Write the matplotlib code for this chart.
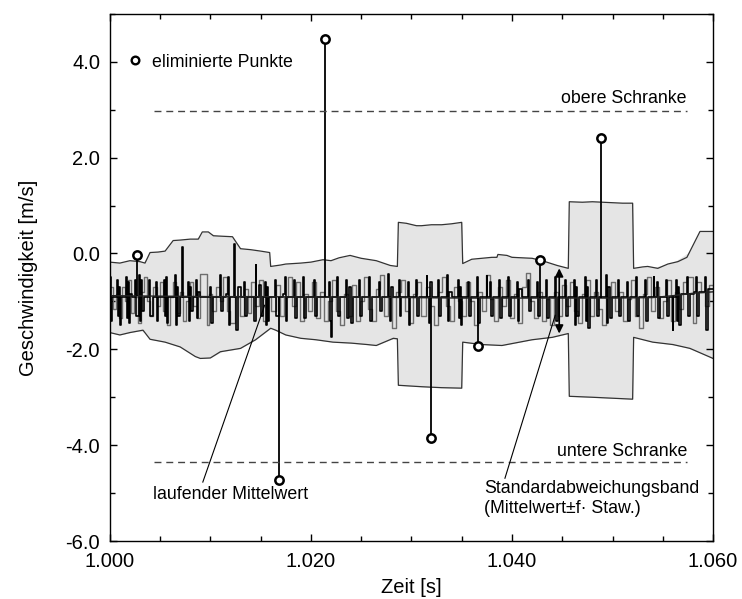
import numpy as np
import matplotlib.pyplot as plt
from matplotlib.lines import Line2D

plt.rcParams['font.family'] = ['Liberation Sans', 'DejaVu Sans']

# grey sample-and-hold signal (time offsets in ms from 1.000 s)
grey_ms = [0.0, 0.3, 0.6, 0.9, 1.2, 1.5, 1.8, 2.1, 2.4, 2.8, 3.1, 3.4, 3.7, 4.0, 4.3, 4.7,
           5.0, 5.3, 5.7, 6.0, 6.3, 6.6, 7.0, 7.3, 7.6, 8.0, 8.3, 8.7, 9.0, 9.7, 9.9, 10.2,
           10.6, 11.0, 11.3, 11.7, 12.0, 12.5, 12.9, 13.3, 13.7, 14.0, 14.4, 14.8, 15.2, 15.6,
           16.0, 16.5, 16.9, 17.3, 17.7, 18.1, 18.5, 18.9, 19.3, 19.7, 20.1, 20.5, 20.9, 21.3,
           21.7, 22.1, 22.5, 22.9, 23.3, 23.7, 24.1, 24.5, 24.9, 25.3, 25.7, 26.1, 26.5, 26.9,
           27.3, 27.7, 28.1, 28.5, 29.0, 29.4, 29.8, 30.2, 30.6, 31.0, 31.4, 31.8, 32.2, 32.6,
           33.0, 33.4, 33.8, 34.2, 34.6, 35.0, 35.4, 35.8, 36.2, 36.6, 37.0, 37.4, 37.8, 38.2,
           38.6, 39.0, 39.4, 39.8, 40.2, 40.6, 41.0, 41.4, 41.8, 42.2, 42.6, 43.0, 43.4, 43.8,
           44.2, 44.6, 45.0, 45.4, 45.8, 46.2, 46.6, 47.0, 47.4, 47.8, 48.2, 48.6, 49.0, 49.4,
           49.8, 50.2, 50.6, 51.0, 51.4, 51.8, 52.2, 52.6, 53.0, 53.4, 53.8, 54.2, 54.6, 55.0,
           55.4, 55.8, 56.2, 56.6, 57.0, 57.4, 58.0, 58.3, 58.8, 59.2, 59.6, 60.0]
grey_v = [-0.7, -1.15, -0.85, -1.35, -0.7, -1.0, -0.55, -1.25, -0.9, -1.45, -0.8, -0.5, -1.0, -1.3, -0.7, -1.1,
          -0.6, -1.2, -1.5, -0.9, -0.6, -1.25, -0.8, -1.4, -1.0, -0.6, -1.1, -1.35, -0.42, -1.5, -0.85, -1.2,
          -0.7, -1.0, -0.5, -1.2, -1.45, -0.9, -1.3, -0.75, -1.25, -0.6, -1.1, -0.55, -1.4, -0.9,
          -1.2, -0.65, -1.3, -0.9, -0.5, -1.1, -0.6, -1.4, -0.85, -1.2, -0.6, -1.35, -0.8, -1.4,
          -1.0, -0.55, -1.2, -1.5, -0.85, -1.3, -0.65, -1.4, -1.0, -0.5, -1.15, -1.4, -0.75, -0.45,
          -1.3, -0.9, -1.55, -0.8, -0.55, -1.2, -1.45, -0.85, -0.6, -1.3, -0.7, -1.1, -1.5, -0.8,
          -0.5, -1.1, -1.4, -0.7, -1.0, -1.3, -0.6, -1.0, -1.5, -0.8, -1.2, -0.45, -0.95, -1.4,
          -0.7, -1.1, -0.55, -1.35, -0.85, -1.45, -0.7, -0.4, -1.0, -1.35, -0.8, -1.4, -0.95, -1.5,
          -0.8, -1.3, -0.65, -1.1, -0.6, -1.2, -1.45, -0.85, -0.55, -1.3, -0.8, -1.15, -1.5, -0.9,
          -0.6, -1.2, -0.8, -1.4, -0.95, -0.55, -1.3, -1.55, -0.85, -0.5, -1.2, -0.7, -1.35, -1.0,
          -0.55, -1.4, -0.8, -1.15, -0.6, -0.5, -1.45, -0.6, -0.8, -1.1, -0.65, -0.65]

# black raw signal
blk_ms = [0.0, 0.1, 0.2, 0.5, 0.7, 0.8, 0.9, 1.0, 1.1, 1.4, 1.6, 1.7, 1.8, 1.9, 2.0, 2.2, 2.5, 2.6,
          2.9, 3.0, 3.1, 3.2, 3.4, 3.8, 3.9, 4.0, 4.3, 4.6, 4.7, 4.8, 5.2, 5.4, 5.5, 5.6, 5.7, 5.8,
          6.2, 6.5, 6.6, 6.7, 6.8, 7.0, 7.2, 7.25, 7.6, 7.8, 7.9, 8.0, 8.1, 8.3, 8.6, 8.7, 8.8, 9.0,
          9.8, 10.0, 10.1, 10.3, 10.8, 11.0, 11.1, 11.3, 11.6, 11.8, 11.9, 12.0, 12.4, 12.45, 12.6, 12.7,
          13.0, 13.3, 13.4, 13.6, 14.0, 14.3, 14.5, 14.55, 14.8, 15.0, 15.2, 15.4, 15.5, 15.6, 15.7, 15.8,
          16.2, 16.4, 16.5, 16.8, 17.2, 17.4, 17.5, 17.6, 18.0, 18.3, 18.4, 18.6, 19.0, 19.2, 19.3, 19.5,
          20.0, 20.3, 20.4, 20.6, 21.0, 21.4, 21.8, 21.9, 22.0, 22.05, 22.4, 22.6, 22.7, 22.9, 23.3, 23.5,
          23.6, 23.8, 24.0, 24.2, 24.6, 24.8, 24.9, 25.1, 25.5, 25.8, 25.9, 26.1, 26.5, 26.8, 26.9, 27.1,
          27.5, 27.7, 27.75, 27.9, 28.0, 28.2, 28.6, 28.8, 28.9, 29.0, 29.5, 29.7, 29.8, 29.9, 30.3, 30.5,
          30.6, 30.8, 31.3, 31.5, 31.55, 31.7, 31.8, 32.0, 32.4, 32.6, 32.7, 32.9, 33.3, 33.5, 33.6, 33.7,
          34.0, 34.4, 34.6, 34.7, 34.8, 34.9, 35.0, 35.4, 35.6, 35.7, 35.9, 36.3, 36.5, 36.6, 36.8, 37.2,
          37.5, 37.55, 37.8, 37.9, 38.1, 38.5, 38.7, 38.8, 39.0, 39.4, 39.6, 39.7, 39.9, 40.3, 40.5, 40.6,
          40.7, 41.0, 41.4, 41.6, 41.7, 41.9, 42.3, 42.5, 42.6, 42.8, 43.2, 43.4, 43.5, 43.7, 44.1, 44.3,
          44.4, 44.6, 45.0, 45.3, 45.4, 45.6, 46.0, 46.2, 46.3, 46.4, 46.5, 46.7, 47.1, 47.3, 47.4, 47.5,
          47.6, 47.8, 48.2, 48.4, 48.5, 48.7, 49.2, 49.4, 49.5, 49.6, 49.7, 49.9, 50.3, 50.5, 50.6, 50.8,
          51.2, 51.4, 51.5, 51.7, 52.1, 52.3, 52.4, 52.6, 53.0, 53.2, 53.3, 53.5, 54.0, 54.1, 54.15, 54.4,
          54.5, 54.7, 55.1, 55.3, 55.4, 55.6, 55.9, 56.0, 56.05, 56.3, 56.4, 56.5, 56.6, 56.8, 57.2, 57.4,
          57.5, 57.7, 58.1, 58.3, 58.4, 58.6, 59.0, 59.2, 59.3, 59.5, 60.0]
blk_v = [-0.5, -1.4, -0.9, -0.9, -0.55, -1.3, -0.7, -1.5, -0.9, -0.9, -0.5, -1.35, -0.6, -1.45, -0.85, -0.9, -0.55, -1.3,
         -0.45, -1.4, -0.55, -1.2, -0.9, -0.9, -0.55, -1.3, -0.9, -0.6, -1.4, -0.9, -0.9, -0.55, -1.3, -0.5, -1.45, -0.9,
         -0.9, -0.45, -1.5, -0.7, -1.3, -0.9, 0.13, -0.9, -0.9, -0.6, -1.4, -0.7, -1.2, -0.9, -0.55, -1.35, -0.8, -0.9,
         -0.9, -0.7, -1.45, -0.9, -0.9, -0.45, -1.2, -0.9, -0.85, -0.5, -1.5, -0.9, 0.2, -0.9, -1.6, -0.7,
         -0.9, -0.6, -1.3, -0.9, -0.9, -1.4, -0.23, -0.9, -0.65, -1.3, -0.9, -0.6, -1.5, -0.7, -1.4, -0.9,
         -0.9, -0.55, -1.3, -0.9, -0.85, -0.5, -1.4, -0.9, -0.9, -0.55, -1.35, -0.9, -0.9, -0.5, -1.35, -0.9,
         -0.9, -0.55, -1.3, -0.9, -0.9, -0.9, -0.6, -1.4, -1.75, -0.9, -0.9, -0.5, -1.3, -0.9, -0.9, -0.55,
         -1.35, -0.7, -1.45, -0.9, -0.9, -0.55, -1.3, -0.9, -0.9, -0.5, -1.4, -0.9, -0.9, -0.6, -1.2, -0.9,
         -0.9, -0.42, -0.9, -1.4, -0.7, -0.9, -0.9, -0.55, -1.3, -0.9, -0.9, -0.6, -1.5, -0.9, -0.9, -0.55,
         -1.3, -0.9, -0.9, -0.46, -0.9, -1.45, -0.6, -0.9, -0.9, -0.55, -1.3, -0.9, -0.9, -0.45, -1.4, -0.8,
         -0.9, -0.9, -0.55, -1.35, -0.7, -1.5, -0.9, -0.9, -0.6, -1.3, -0.9, -0.9, -0.5, -1.45, -0.9, -0.9,
         -0.46, -0.9, -0.6, -1.3, -0.9, -0.9, -0.55, -1.35, -0.9, -0.9, -0.5, -1.3, -0.9, -0.9, -0.6, -1.4,
         -0.75, -0.9, -0.9, -0.55, -1.2, -0.9, -0.9, -0.6, -1.3, -0.9, -0.9, -0.55, -1.35, -0.9, -0.9, -0.5,
         -1.4, -0.9, -0.9, -0.55, -1.3, -0.9, -0.9, -0.55, -1.5, -0.7, -1.3, -0.9, -0.9, -0.5, -1.4, -0.7,
         -1.55, -0.9, -0.9, -0.55, -1.3, -0.9, -0.9, -0.45, -1.45, -0.7, -1.35, -0.9, -0.9, -0.55, -1.3, -0.9,
         -0.9, -0.6, -1.4, -0.9, -0.9, -0.5, -1.3, -0.9, -0.9, -0.55, -1.4, -0.9, -0.9, -0.5, -0.9, -0.6,
         -1.35, -0.9, -0.9, -0.55, -1.3, -0.9, -0.9, -1.6, -0.9, -0.55, -1.4, -0.7, -1.5, -0.85, -0.85, -0.5,
         -1.3, -0.85, -0.8, -0.5, -1.3, -0.8, -0.8, -0.5, -1.6, -0.75, -0.75]

# running mean
mean_ms = [0, 5, 10, 15, 20, 25, 30, 35, 40, 45, 50, 54, 56, 58, 60]
mean_v = [-0.88, -0.89, -0.9, -0.9, -0.91, -0.91, -0.92, -0.93, -0.93, -0.93, -0.93, -0.92, -0.88, -0.83, -0.8]

# standard deviation band
up_ms = [0, 1.0, 2.0, 3.0, 3.5, 4.0, 4.8, 5.5, 6.3, 7.0, 8.0, 8.8, 9.2, 9.8, 10.3, 11.2, 12.2, 13.0, 14.0,
         15.0, 15.9, 16.0, 17.0, 17.5, 19.0, 20.0, 21.2, 22.0, 22.8, 23.9, 25.0, 26.5, 27.9, 28.6, 28.7,
         29.5, 30.5, 31.0, 32.0, 33.0, 34.0, 35.0, 35.1, 36.0, 37.0, 38.0, 38.5, 38.6, 39.5, 40.0, 42.0,
         43.0, 44.5, 45.6, 45.7, 47.0, 48.0, 49.0, 50.0, 51.0, 52.0, 52.1, 53.0, 53.5, 54.5, 55.5, 56.5,
         57.4, 58.7, 60.0]
up_v = [-0.18, -0.2, -0.15, -0.17, -0.2, 0.02, 0.03, 0.05, 0.27, 0.28, 0.3, 0.3, 0.45, 0.45, 0.37, 0.36,
        0.35, 0.1, 0.08, 0.05, 0.02, -0.27, -0.24, -0.22, -0.2, -0.18, -0.13, -0.15, -0.09, -0.04, -0.1,
        -0.15, -0.25, -0.27, 0.65, 0.63, 0.58, 0.58, 0.6, 0.6, 0.62, 0.65, -0.21, -0.12, -0.1, -0.08, -0.08,
        -0.02, -0.04, -0.08, -0.1, -0.15, -0.25, -0.31, 1.08, 1.07, 1.08, 1.07, 1.06, 1.05, 1.05, -0.31,
        -0.28, -0.27, -0.31, -0.22, -0.17, -0.08, 0.46, 0.46]
lo_ms = [0, 1.0, 2.0, 3.3, 4.0, 5.5, 7.0, 8.5, 9.0, 10.0, 11.0, 13.0, 14.5, 16.0, 16.5, 17.5, 19.0,
         20.5, 22.2, 24.0, 25.6, 26.5, 28.2, 28.6, 28.7, 31.0, 33.0, 35.0, 35.1, 37.0, 39.0, 42.0, 44.0,
         45.6, 45.7, 48.0, 50.0, 52.0, 52.1, 54.0, 56.0, 57.7, 60.0]
lo_v = [-1.65, -1.7, -1.65, -1.6, -1.79, -1.85, -1.95, -2.15, -2.19, -2.18, -2.05, -1.98, -1.8, -1.56,
        -1.6, -1.7, -1.77, -1.8, -1.85, -1.87, -1.9, -1.92, -1.77, -1.78, -2.75, -2.78, -2.8, -2.81,
        -1.85, -1.9, -1.92, -1.8, -1.75, -1.67, -2.98, -3.0, -3.02, -3.04, -1.75, -1.85, -1.9, -1.98,
        -2.19]

# eliminated points
elim_ms = [2.7, 16.8, 21.4, 31.9, 36.6, 42.8, 48.9]
elim_v = [-0.04, -4.73, 4.48, -3.85, -1.94, -0.13, 2.4]

upper_bound = 2.97
lower_bound = -4.35
bound_ms = [4.4, 57.4]

def to_t(ms):
    return 1.0 + np.asarray(ms) / 1000.0

fig = plt.figure(figsize=(7.42, 5.99), dpi=100)
ax = fig.add_axes([0.148, 0.0968, 0.813, 0.88])

ax.fill_between(to_t(up_ms), np.interp(up_ms, lo_ms, lo_v), up_v, color='#e5e5e5', lw=0)
ax.fill_between(to_t(lo_ms), lo_v, np.interp(lo_ms, up_ms, up_v), color='#e5e5e5', lw=0)
ax.plot(to_t(up_ms), up_v, color='#333333', lw=0.9)
ax.plot(to_t(lo_ms), lo_v, color='#333333', lw=0.9)

ax.plot(to_t(grey_ms), grey_v, drawstyle='steps-post', color='#6e6e6e', lw=1.0)
ax.plot(to_t(blk_ms), blk_v, drawstyle='steps-post', color='black', lw=1.2)
ax.plot(to_t(mean_ms), mean_v, color='#222222', lw=1.0)

mean_at = np.interp(elim_ms, mean_ms, mean_v)
ax.vlines(to_t(elim_ms), mean_at, elim_v, color='black', lw=1.3)
ax.plot(to_t(elim_ms), elim_v, 'o', ms=6, mfc='white', mec='black', mew=1.8)

ax.hlines([upper_bound, lower_bound], to_t(bound_ms[0]), to_t(bound_ms[1]),
          colors='#444444', linestyles=(0, (5, 3.5)), lw=1.0)
ax.text(to_t(bound_ms[1]), upper_bound + 0.27, 'obere Schranke', ha='right', va='center', fontsize=12.8)
ax.text(to_t(bound_ms[1]), lower_bound + 0.22, 'untere Schranke', ha='right', va='center', fontsize=12.8)

ax.legend(handles=[Line2D([], [], ls='none', marker='o', ms=5.5, mfc='white', mec='black', mew=1.7)],
          labels=['eliminierte Punkte'], loc='upper left', bbox_to_anchor=(0.003, 0.955),
          frameon=False, handlelength=0.8, handletextpad=0.55, fontsize=12.8)

# pointer lines and labels
ax.plot(to_t([9.25, 15.4]), [-4.77, -1.08], color='black', lw=0.8)
ax.text(to_t(4.3), -5.02, 'laufender Mittelwert', ha='left', va='center', fontsize=12.8)
ax.plot(to_t([39.3, 44.3]), [-4.69, -1.29], color='black', lw=0.8)
ax.text(to_t(37.2), -4.9, 'Standardabweichungsband', ha='left', va='center', fontsize=12.8)
ax.text(to_t(37.2), -5.33, '(Mittelwert\u00b1f\u00b7 Staw.)', ha='left', va='center', fontsize=12.8)
ax.annotate('', xy=(to_t(44.7), -0.31), xytext=(to_t(44.7), -1.67),
            arrowprops=dict(arrowstyle='<|-|>', color='black', lw=1.2, mutation_scale=12,
                            shrinkA=0, shrinkB=0))

ax.set_xlim(1.0, 1.06)
ax.set_ylim(-6.0, 5.0)
ax.set_xticks([1.0, 1.02, 1.04, 1.06])
ax.set_xticklabels(['1.000', '1.020', '1.040', '1.060'])
ax.set_xticks(np.arange(1.0, 1.0601, 0.005), minor=True)
ax.set_yticks([-6, -4, -2, 0, 2, 4])
ax.set_yticklabels(['-6.0', '-4.0', '-2.0', '0.0', '2.0', '4.0'])
ax.set_yticks([-5, -3, -1, 1, 3, 5], minor=True)
ax.tick_params(which='both', direction='in', top=True, right=True, labelsize=14.5)
ax.tick_params(axis='x', which='both', pad=8)
ax.tick_params(axis='y', which='both', pad=7)
ax.tick_params(which='major', length=5, width=1)
ax.tick_params(which='minor', length=3.5, width=1)
for s in ax.spines.values():
    s.set_linewidth(1.0)

ax.set_xlabel('Zeit [s]', fontsize=14.5, labelpad=5)
ax.set_ylabel('Geschwindigkeit [m/s]', fontsize=14.5, labelpad=20)

fig.savefig('out.png', dpi=100)
